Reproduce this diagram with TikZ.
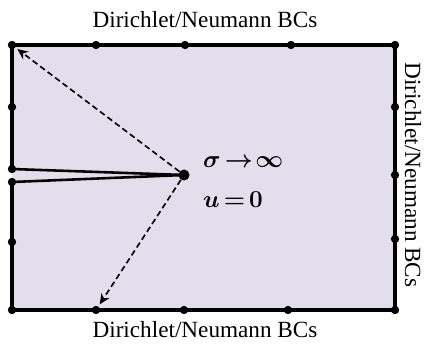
\documentclass[tikz,border=0pt]{standalone}
\usepackage{amsmath}
\usepackage{fontspec}
\setmainfont{Liberation Serif}
\usetikzlibrary{arrows.meta, backgrounds}
\definecolor{domainfill}{RGB}{227,222,236}
\begin{document}
\begin{tikzpicture}[x=0.03cm, y=-0.03cm, every node/.style={circle, fill=black, inner sep=0pt, minimum size=0.25cm}]
\useasboundingbox (0,0) rectangle (424,346);

% Nodes

\node (TL) at (12,45) {};
\node (T1) at (96,45) {};
\node (T2) at (185,45) {};
\node (T3) at (291,45) {};
\node (TR) at (395,45) {};
\node (L1) at (12,107) {};
\node (L2) at (12,169) {};
\node (L3) at (12,182) {};
\node (L4) at (12,242) {};
\node (R1) at (395,107) {};
\node (R2) at (395,175) {};
\node (R3) at (395,239) {};
\node (BL) at (12,310) {};
\node (B1) at (96,310) {};
\node (B2) at (184,310) {};
\node (B3) at (288,310) {};
\node (BR) at (395,310) {};
\node[minimum size=0.33cm] (C) at (184,175) {};

% Domain
\begin{scope}[on background layer]
\fill[domainfill] (TL.center) rectangle (BR.center);
\draw[line width=3pt] (L2.center) -- (TL.center) -- (TR.center) -- (BR.center) -- (BL.center) -- (L3.center);

% Edges
\draw[line width=2.2pt] (L2.center) -- (C.center);
\draw[line width=2.2pt] (L3.center) -- (C.center);
\end{scope}

\draw[dash pattern=on 5pt off 3pt, line width=1.4pt, -{Stealth[length=9pt, width=8pt]}, shorten >=2pt] (C) -- (TL);
\draw[dash pattern=on 5pt off 3pt, line width=1.4pt, -{Stealth[length=9pt, width=8pt]}, shorten >=2pt] (C) -- (B1);

% Labels
\node[draw=none, fill=none, rectangle, inner sep=0pt, font=\fontsize{19.8}{22}\selectfont] (topbc) at (205,20) {Dirichlet/Neumann BCs};
\node[draw=none, fill=none, rectangle, inner sep=0pt, font=\fontsize{19.8}{22}\selectfont] (botbc) at (205,330) {Dirichlet/Neumann BCs};
\node[draw=none, fill=none, rectangle, inner sep=0pt, rotate=-90, font=\fontsize{19.8}{22}\selectfont] (rightbc) at (413,175) {Dirichlet/Neumann BCs};

\node[draw=none, fill=none, rectangle, inner sep=0pt, anchor=west, font=\fontsize{19.8}{22}\selectfont] (sig) at (203,162) {$\boldsymbol{\sigma}\mkern3mu{\boldsymbol{\to}}\mkern2mu\boldsymbol{\infty}$};
\node[draw=none, fill=none, rectangle, inner sep=0pt, anchor=west, font=\fontsize{19.8}{22}\selectfont] (uzero) at (203,200) {$\boldsymbol{u}\mkern3mu{\boldsymbol{=}}\mkern3mu\boldsymbol{0}$};

\end{tikzpicture}
\end{document}
